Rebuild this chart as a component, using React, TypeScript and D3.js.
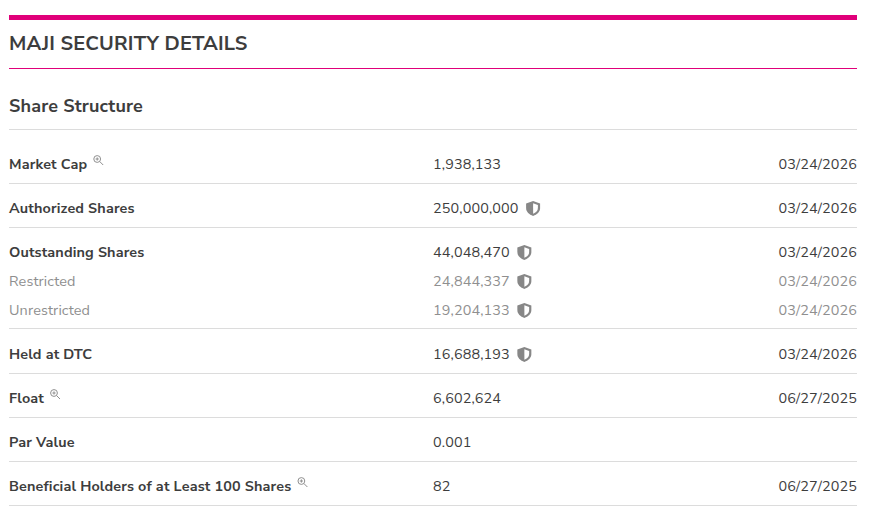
import React, { useEffect, useRef } from "react";
import * as d3 from "d3";

const title = "MAJI SECURITY DETAILS";
const subtitle = "Share Structure";

const labels = [
  "Market Cap",
  "Authorized Shares",
  "Outstanding Shares",
  "Restricted",
  "Unrestricted",
  "Held at DTC",
  "Float",
  "Par Value",
  "Beneficial Holders of at Least 100 Shares",
];
const values = ["1,938,133", "250,000,000", "44,048,470", "24,844,337", "19,204,133", "16,688,193", "6,602,624", "0.001", "82"];
const dates = ["03/24/2026", "03/24/2026", "03/24/2026", "03/24/2026", "03/24/2026", "03/24/2026", "06/27/2025", "", "06/27/2025"];
const subRows = ["Restricted", "Unrestricted"];
const shielded = ["Authorized Shares", "Outstanding Shares", "Restricted", "Unrestricted", "Held at DTC"];
const searchable = ["Market Cap", "Float", "Beneficial Holders of at Least 100 Shares"];

const PINK = "#e0007a";
const DARK = "#3d3d3d";
const MUTED = "#8f8f8f";
const FONT = "'Nunito Sans', Lato, 'Open Sans', sans-serif";

const W = 869;
const H = 515;

// row centre lines, in table space
const rowCentres = [164, 208, 252, 281, 310, 354, 398, 442, 486];
const dividers = [183, 227, 328, 373, 417, 461, 505];

export default function App() {
  const svgRef = useRef<SVGSVGElement | null>(null);

  useEffect(() => {
    if (!svgRef.current) return;
    const svg = d3.select(svgRef.current);
    svg.selectAll("*").remove();

    const left = 9;
    const right = 857;
    const y = d3.scalePoint<string>().domain(labels).range([0, labels.length - 1]);
    const centre = (label: string) => rowCentres[Math.round(y(label)!)];

    svg.append("rect").attr("x", left).attr("y", 15).attr("width", right - left).attr("height", 5).attr("fill", PINK);
    svg.append("rect").attr("x", left).attr("y", 68).attr("width", right - left).attr("height", 1).attr("fill", PINK);
    svg.append("rect").attr("x", left).attr("y", 129).attr("width", right - left).attr("height", 1).attr("fill", "#dcdcdc");

    svg.append("text").attr("x", left).attr("y", 50).attr("font-size", 20).attr("font-weight", 700).attr("letter-spacing", 0.15).attr("fill", DARK).text(title);
    svg.append("text").attr("x", left).attr("y", 112).attr("font-size", 18).attr("font-weight", 700).attr("letter-spacing", 0.17).attr("fill", DARK).text(subtitle);

    svg
      .selectAll(".divider")
      .data(dividers)
      .enter()
      .append("rect")
      .attr("class", "divider")
      .attr("x", left)
      .attr("y", (d) => d)
      .attr("width", right - left)
      .attr("height", 1)
      .attr("fill", "#dcdcdc");

    const rows = svg
      .selectAll(".row")
      .data(labels)
      .enter()
      .append("g")
      .attr("class", "row")
      .attr("transform", (d) => `translate(0,${centre(d) + 5})`);

    rows
      .append("text")
      .attr("class", "label")
      .attr("x", left)
      .attr("font-size", 14.4)
      .attr("letter-spacing", 0.14)
      .attr("font-weight", (d) => (subRows.includes(d) ? 400 : 700))
      .attr("fill", (d) => (subRows.includes(d) ? MUTED : DARK))
      .text((d) => d);

    rows
      .append("text")
      .attr("class", "value")
      .attr("x", 433)
      .attr("font-size", 14.4)
      .attr("letter-spacing", 0.12)
      .attr("fill", (d) => (subRows.includes(d) ? MUTED : DARK))
      .text((_, i) => values[i]);

    rows
      .append("text")
      .attr("x", right)
      .attr("text-anchor", "end")
      .attr("font-size", 14.4)
      .attr("letter-spacing", 0.12)
      .attr("fill", (d) => (subRows.includes(d) ? MUTED : DARK))
      .text((_, i) => dates[i]);

    // shield sits right after the value text
    rows
      .filter((d) => shielded.includes(d))
      .each(function () {
        const g = d3.select(this);
        const w = (g.select(".value").node() as SVGTextElement).getComputedTextLength();
        const s = g.append("g").attr("transform", `translate(${433 + w + 7.5},-12)`);
        s.append("path")
          .attr("d", "M7 0 L14 2.4 V7 C14 11 11 13.4 7 15 C3 13.4 0 11 0 7 V2.4 Z")
          .attr("fill", "#878787");
        s.append("path")
          .attr("d", "M7 2.2 L11.8 3.9 V7 C11.8 9.8 9.8 11.6 7 12.8 Z")
          .attr("fill", "#fff");
      });

    // little magnifier, raised like a superscript
    rows
      .filter((d) => searchable.includes(d))
      .each(function () {
        const g = d3.select(this);
        const w = (g.select(".label").node() as SVGTextElement).getComputedTextLength();
        const s = g.append("g").attr("transform", `translate(${left + w + 6},-14)`);
        s.append("circle").attr("cx", 4).attr("cy", 4).attr("r", 3.4).attr("fill", "none").attr("stroke", "#8f8f8f").attr("stroke-width", 1);
        s.append("path").attr("d", "M6.6 6.6 L10 10 M2.4 4 H5.6 M4 2.4 V5.6").attr("stroke", "#8f8f8f").attr("stroke-width", 1).attr("fill", "none");
      });
  }, []);

  return (
    <svg
      ref={svgRef}
      width={W}
      height={H}
      style={{ position: "fixed", left: 0, top: 0, background: "#fff", fontFamily: FONT }}
    ></svg>
  );
}
